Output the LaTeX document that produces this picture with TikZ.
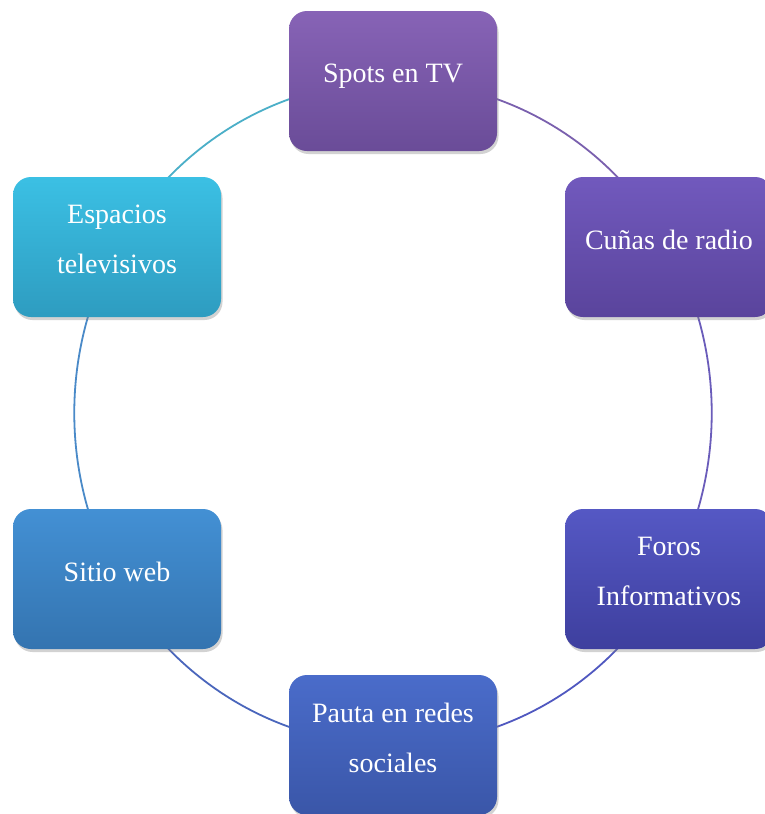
\documentclass[tikz,border=0pt]{standalone}
\usepackage{fontspec}
\setmainfont{Liberation Serif}
\usetikzlibrary{shadows}
\definecolor{cSpotsT}{HTML}{8763B6}
\definecolor{cSpotsB}{HTML}{6A4C98}
\definecolor{cCunasT}{HTML}{7159BD}
\definecolor{cCunasB}{HTML}{5A449C}
\definecolor{cForosT}{HTML}{5558C4}
\definecolor{cForosB}{HTML}{3E3F9E}
\definecolor{cPautaT}{HTML}{4A6CCA}
\definecolor{cPautaB}{HTML}{3A56A8}
\definecolor{cSitioT}{HTML}{4390D4}
\definecolor{cSitioB}{HTML}{3474B0}
\definecolor{cEspT}{HTML}{3BC0E4}
\definecolor{cEspB}{HTML}{2E9CC0}
\definecolor{aTL}{HTML}{4BAFC8}
\definecolor{aTR}{HTML}{7A60AE}
\definecolor{aR}{HTML}{6A5CBA}
\definecolor{aBR}{HTML}{5058C0}
\definecolor{aBL}{HTML}{4A66BC}
\definecolor{aL}{HTML}{4A8AC8}
\newcommand{\dnstrut}{\rule[-15pt]{0pt}{15pt}}
\tikzset{
  cyclebox/.style={rounded corners=18pt, minimum width=208pt, minimum height=140pt,
    inner sep=0pt, align=center, text=white, font=\fontsize{28}{50}\selectfont,
    drop shadow={opacity=0.35, shadow xshift=1.5pt, shadow yshift=-3pt}},
  ring/.style={line width=1.8pt},
}
\begin{document}
\begin{tikzpicture}[x=1pt,y=-1pt]
\useasboundingbox (0,0) rectangle (765,814);
\fill[white] (0,0) rectangle (765,814);
\coordinate (c) at (393,413);
% node centres on the ring
\coordinate (pTop) at (393,81);
\coordinate (pRT) at (669,247);
\coordinate (pRB) at (669,579);
\coordinate (pBot) at (393,745);
\coordinate (pLB) at (117,579);
\coordinate (pLT) at (117,247);
% ring arcs
\draw[ring, aTR] (pTop) arc[start angle=-90, end angle=-30, x radius=319, y radius=332];
\draw[ring, aR] (pRT) arc[start angle=-30, end angle=30, x radius=319, y radius=332];
\draw[ring, aBR] (pRB) arc[start angle=30, end angle=90, x radius=319, y radius=332];
\draw[ring, aBL] (pBot) arc[start angle=90, end angle=150, x radius=319, y radius=332];
\draw[ring, aL] (pLB) arc[start angle=150, end angle=210, x radius=319, y radius=332];
\draw[ring, aTL] (pLT) arc[start angle=210, end angle=270, x radius=319, y radius=332];
% boxes
\node[cyclebox, top color=cSpotsT, bottom color=cSpotsB] (spots) at (pTop) {Spots en TV\dnstrut};
\node[cyclebox, top color=cCunasT, bottom color=cCunasB] (cunas) at (pRT) {Cuñas de radio\dnstrut};
\node[cyclebox, top color=cForosT, bottom color=cForosB] (foros) at (pRB) {Foros\\Informativos\dnstrut};
\node[cyclebox, top color=cPautaT, bottom color=cPautaB] (pauta) at (pBot) {Pauta en redes\\sociales\dnstrut};
\node[cyclebox, top color=cSitioT, bottom color=cSitioB] (sitio) at (pLB) {Sitio web\dnstrut};
\node[cyclebox, top color=cEspT, bottom color=cEspB] (espacios) at (pLT) {Espacios\\televisivos\dnstrut};
\end{tikzpicture}
\end{document}
